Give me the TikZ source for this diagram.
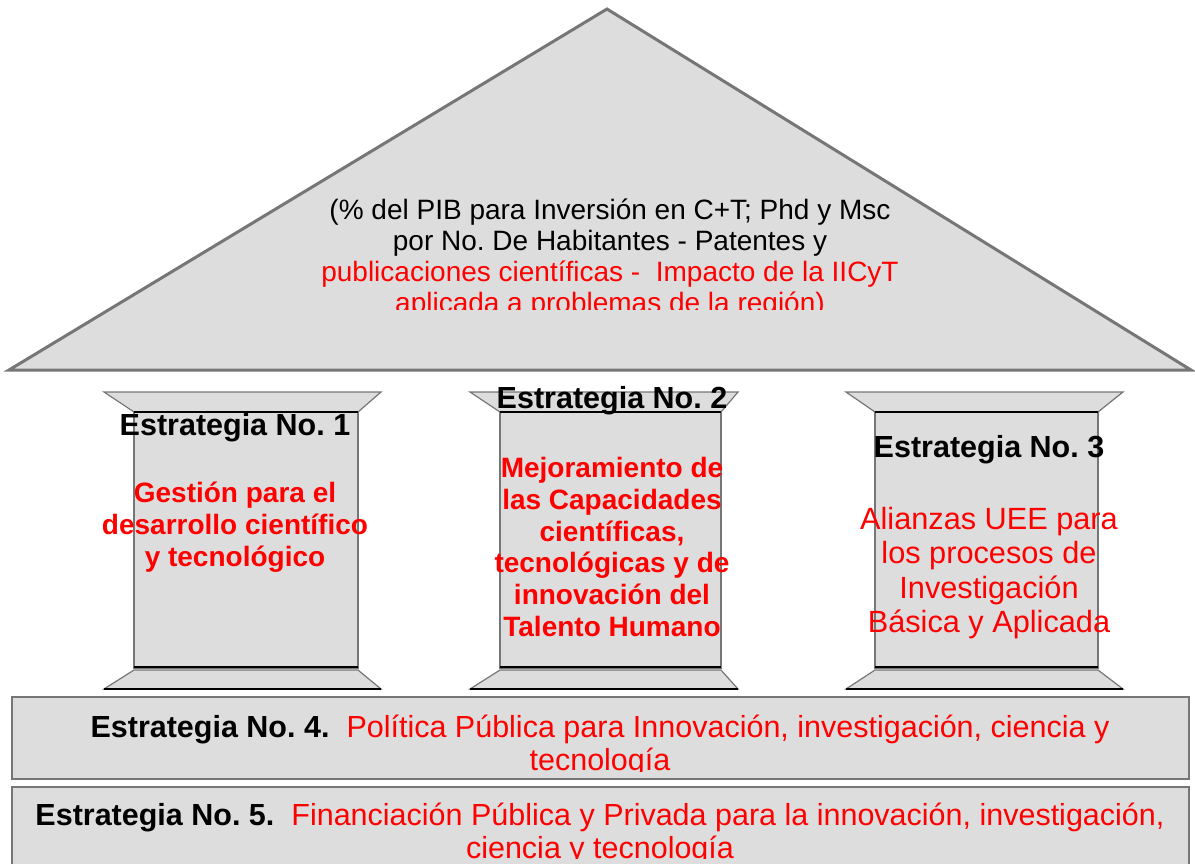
\documentclass[tikz,border=0pt]{standalone}
\usepackage{fontspec}
\setmainfont{Liberation Sans}
\usepackage{xcolor}
\definecolor{pgray}{RGB}{221,221,221}
\definecolor{pline}{RGB}{118,118,118}
\definecolor{pred}{RGB}{255,0,0}
\usepackage{tikz}
\usetikzlibrary{positioning}
\frenchspacing

\begin{document}
\begin{tikzpicture}[x=1pt,y=-1pt,
  roofline/.style={fill=pgray,draw=pline,line width=3pt,line join=miter},
  barline/.style={fill=pgray,draw=pline,line width=2.5pt},
  colpart/.style={fill=pgray,draw=pline,line width=1.2pt},
  edge/.style={draw=black,line width=2pt},
  head/.style={font=\fontsize{30.5}{34}\selectfont\bfseries,inner sep=0pt},
  txt/.style={align=center,inner sep=0pt,text=pred}]
  \clip (0,0) rectangle (1195,863);
  % roof
  \draw[roofline] (607,9) -- (1191,370) -- (9,370) -- cycle;
  % columns
  \foreach \cl/\sl/\sr/\cr in {104/134/358/381,470/500/721/738,846/875/1098/1123}{
    \draw[colpart] (\cl,392) -- (\cr,392) -- (\sr,412) -- (\sl,412) -- cycle;
    \draw[colpart] (\sl,412) rectangle (\sr,668);
    \draw[colpart] (\sl,670) -- (\sr,670) -- (\cr,689) -- (\cl,689) -- cycle;
    \draw[edge] (\sl,412) -- (\sr,412);
    \draw[edge] (\sl,667) -- (\sr,667);
    \draw[edge] (\cl,689) -- (\cr,689);
  }
  % bars
  \draw[barline] (12,697) rectangle (1189,779);
  \draw[barline] (12,787) rectangle (1189,880);
  % texts
  \begin{scope}
    \clip (280,180) rectangle (940,309);
    \node[txt,text=black,font=\fontsize{28}{31}\selectfont] (rooftxt) at (610,259)
      {(\% del PIB para Inversión en C+T; Phd y Msc\\
       por No. De Habitantes - Patentes y\\
       \textcolor{pred}{publicaciones científicas -\ \ Impacto de la IICyT}\\
       \textcolor{pred}{aplicada a problemas de la región)}};
  \end{scope}
  \node[head] (est1) at (235,428) {Estrategia No. 1};
  \node[txt,font=\fontsize{28}{32}\selectfont\bfseries] (gest) at (235,527)
    {Gestión para el\\desarrollo científico\\y tecnológico};
  \node[head] (est2) at (612,401) {Estrategia No. 2};
  \node[txt,font=\fontsize{28}{31.8}\selectfont\bfseries] (mejo) at (612,547)
    {Mejoramiento de\\las Capacidades\\científicas,\\tecnológicas y de\\innovación del\\Talento Humano};
  \node[head] (est3) at (989,450) {Estrategia No. 3};
  \node[txt,font=\fontsize{30.7}{34.5}\selectfont] (alia) at (989,573)
    {Alianzas UEE para\\los procesos de\\Investigación\\Básica y Aplicada};
  \begin{scope}
    \clip (12,697) rectangle (1189,771);
    \node[txt,text=black,font=\fontsize{30.5}{33}\selectfont] (est4) at (600,746)
      {{\bfseries Estrategia No. 4.}\ \ \textcolor{pred}{Política Pública para Innovación, investigación, ciencia y}\\
       \textcolor{pred}{tecnología}};
  \end{scope}
  \begin{scope}
    \clip (12,787) rectangle (1189,858);
    \node[txt,text=black,font=\fontsize{30.5}{33}\selectfont] (est5) at (600,834)
      {{\bfseries Estrategia No. 5.}\ \ \textcolor{pred}{Financiación Pública y Privada para la innovación, investigación,}\\
       \textcolor{pred}{ciencia y tecnología}};
  \end{scope}
\end{tikzpicture}
\end{document}
